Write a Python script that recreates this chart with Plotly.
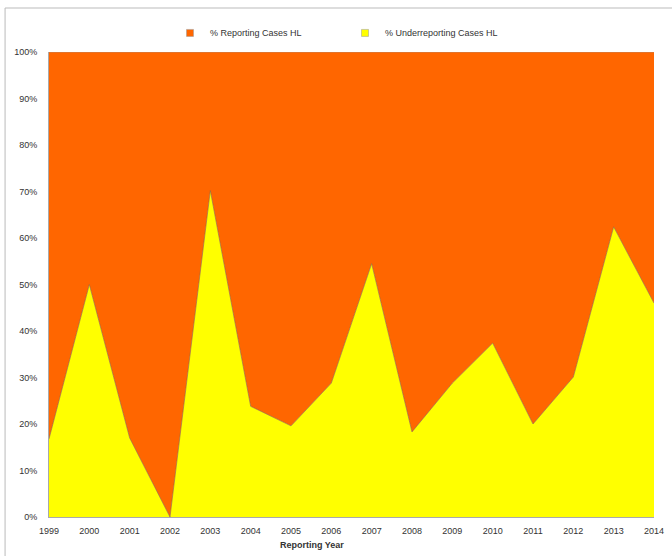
import plotly.graph_objects as go

years = [1999, 2000, 2001, 2002, 2003, 2004, 2005, 2006, 2007, 2008, 2009, 2010, 2011, 2012, 2013, 2014]
under_pct = [16.8, 50.0, 17.0, 0.0, 70.2, 23.8, 19.6, 28.8, 54.5, 18.3, 28.8, 37.4, 20.0, 30.1, 62.4, 46.0]
report_pct = [round(100 - v, 1) for v in under_pct]
tick_vals = [0, 10, 20, 30, 40, 50, 60, 70, 80, 90, 100]
tick_text = [f"{v}%" for v in tick_vals]

ORANGE = "#FF6600"
YELLOW = "#FFFF00"
EDGE = "#8a6a3a"
FONT = "Liberation Sans"

fig = go.Figure()
fig.add_trace(go.Scatter(
    x=years, y=under_pct, stackgroup="s", mode="lines",
    line=dict(color=EDGE, width=0.6), fillcolor=YELLOW,
    name="% Underreporting Cases HL", showlegend=False, hoverinfo="x+y"))
fig.add_trace(go.Scatter(
    x=years, y=report_pct, stackgroup="s", mode="lines",
    line=dict(color="#999999", width=0.6), fillcolor=ORANGE,
    name="% Reporting Cases HL", showlegend=False, hoverinfo="x+y"))

# legend proxies
fig.add_trace(go.Scatter(
    x=[None], y=[None], mode="markers", name="% Reporting Cases HL",
    marker=dict(symbol="square", size=7, color=ORANGE, line=dict(color="#999", width=0.5))))
fig.add_trace(go.Scatter(
    x=[None], y=[None], mode="markers", name="% Underreporting Cases HL",
    marker=dict(symbol="square", size=7, color=YELLOW, line=dict(color="#999", width=0.5))))

fig.update_layout(
    width=672, height=556,
    margin=dict(l=49, r=18, t=52, b=39, autoexpand=False),
    paper_bgcolor="white", plot_bgcolor="white",
    font=dict(family=FONT, size=9, color="#333333"),
    legend=dict(orientation="h", x=0.2, xanchor="left", y=1.041, yanchor="middle",
                traceorder="normal",
                font=dict(size=9, color="#333"), itemwidth=30, entrywidth=130,
                entrywidthmode="pixels", bgcolor="rgba(0,0,0,0)"),
    xaxis=dict(range=[1999, 2014], tickvals=years, ticktext=[str(y) for y in years],
               showgrid=False, zeroline=False, showline=True, linecolor="#aaaaaa",
               linewidth=1, ticks="", ticklabelstandoff=5, automargin=False,
               tickfont=dict(size=9, color="#333")),
    yaxis=dict(range=[0, 100], tickvals=tick_vals, ticktext=tick_text,
               showgrid=False, zeroline=False, showline=True, linecolor="#aaaaaa",
               linewidth=1, ticks="", ticklabelstandoff=9, automargin=False,
               tickfont=dict(size=9, color="#333")),
    annotations=[dict(text="<b>Reporting Year</b>", xref="paper", yref="paper",
                      x=0.434, y=-0.060, xanchor="center", yanchor="middle",
                      showarrow=False, font=dict(size=9, color="#333"))],
    shapes=[dict(type="rect", xref="paper", yref="paper",
                 x0=-0.0726, x1=1.06, y0=-0.12, y1=1.0946,
                 line=dict(color="#bbbbbb", width=1), fillcolor="rgba(0,0,0,0)", layer="below")],
)

fig.write_html("out.html", config={"displayModeBar": False},
               post_script="document.body.style.margin='0px';document.body.style.overflow='hidden';")
